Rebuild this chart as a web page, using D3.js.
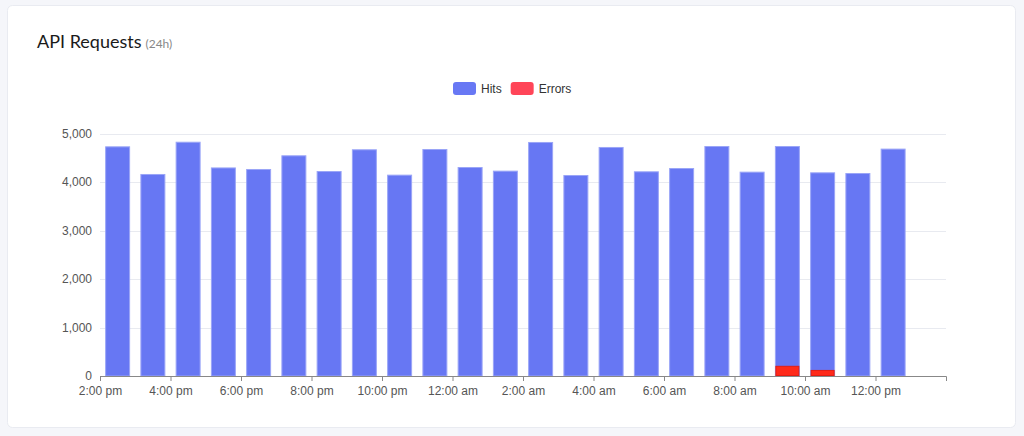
<!DOCTYPE html>
<html>
<head>
<meta charset="utf-8">
<script src="https://cdn.jsdelivr.net/npm/d3@7"></script>
<style>
  html, body { margin: 0; padding: 0; background: #f5f6fa; }
  svg { display: block; }
  .tick text { font-family: "Liberation Sans", Arial, sans-serif; font-size: 12px; fill: #555; }
</style>
</head>
<body>
<svg id="chart"></svg>
<script>
var width = 1024; // canvas size
var height = 436;

// Hour buckets (start of each hour) and their counts
var hours = [
  "2024-03-04T14:00", "2024-03-04T15:00", "2024-03-04T16:00", "2024-03-04T17:00",
  "2024-03-04T18:00", "2024-03-04T19:00", "2024-03-04T20:00", "2024-03-04T21:00",
  "2024-03-04T22:00", "2024-03-04T23:00", "2024-03-05T00:00", "2024-03-05T01:00",
  "2024-03-05T02:00", "2024-03-05T03:00", "2024-03-05T04:00", "2024-03-05T05:00",
  "2024-03-05T06:00", "2024-03-05T07:00", "2024-03-05T08:00", "2024-03-05T09:00",
  "2024-03-05T10:00", "2024-03-05T11:00", "2024-03-05T12:00"
];
var hits = [
  4725, 4155, 4820, 4290, 4258, 4540, 4216, 4664, 4141, 4670, 4299, 4224,
  4815, 4134, 4712, 4210, 4278, 4732, 4203, 4732, 4189, 4175, 4678
];
var errors = [
  0, 0, 0, 0, 0, 0, 0, 0, 0, 0, 0, 0,
  0, 0, 0, 0, 0, 0, 0, 210, 125, 0, 0
];

var timeDomain = ["2024-03-04T14:00", "2024-03-05T14:00"];
var xTicks = [
  "2024-03-04T14:00", "2024-03-04T16:00", "2024-03-04T18:00", "2024-03-04T20:00",
  "2024-03-04T22:00", "2024-03-05T00:00", "2024-03-05T02:00", "2024-03-05T04:00",
  "2024-03-05T06:00", "2024-03-05T08:00", "2024-03-05T10:00", "2024-03-05T12:00"
];
var yTicks = [0, 1000, 2000, 3000, 4000, 5000];

var legendItems = ["Hits", "Errors"];
var legendColors = ["#6878f4", "#ff4558"];

var parse = d3.timeParse("%Y-%m-%dT%H:%M");

// Plot area
var plotLeft = 100, plotRight = 946, plotTop = 133.5, plotBottom = 376;

var svg = d3.select("#chart").attr("width", width).attr("height", height);

// Card
svg.append("rect")
  .attr("x", 7.5).attr("y", 5.5)
  .attr("width", 1008).attr("height", 422)
  .attr("rx", 5).attr("ry", 5)
  .style("fill", "#fff")
  .style("stroke", "#e9ebf1");

// Title
var title = svg.append("text")
  .attr("x", 37).attr("y", 48)
  .style("font-family", "Lato, sans-serif");
title.append("tspan").text("API Requests")
  .style("font-size", "18px").style("fill", "#1a1a1a");
title.append("tspan").text("(24h)")
  .attr("dx", 4)
  .style("font-size", "12px").style("fill", "#888");

var x = d3.scaleTime()
  .domain(timeDomain.map(parse))
  .range([plotLeft, plotRight]);

var y = d3.scaleLinear()
  .domain([0, 5000])
  .range([plotBottom, plotTop]);

// Gridlines
svg.append("g").selectAll("line").data(yTicks.slice(1)).enter().append("line")
  .attr("x1", plotLeft).attr("x2", plotRight)
  .attr("y1", function(d) { return Math.round(y(d)) + 0.5; })
  .attr("y2", function(d) { return Math.round(y(d)) + 0.5; })
  .style("stroke", "#e8eaf0");

// Y labels (no axis line)
var yAxis = svg.append("g")
  .attr("transform", "translate(" + plotLeft + ",0)")
  .call(d3.axisLeft(y).tickValues(yTicks).tickFormat(d3.format(",")).tickSize(0).tickPadding(8));
yAxis.select(".domain").remove();

var hourWidth = x(parse(hours[1])) - x(parse(hours[0]));
var barW = hourWidth * 0.68;

function barX(d) {
  var t = parse(d);
  return x(d3.timeMinute.offset(t, 30)) - barW / 2;
}

// Hits
svg.append("g").selectAll("rect").data(hours).enter().append("rect")
  .attr("x", function(d) { return barX(d); })
  .attr("y", function(d, i) { return y(hits[i]); })
  .attr("width", barW)
  .attr("height", function(d, i) { return y(0) - y(hits[i]); })
  .style("fill", "#6777f3")
  .style("stroke", "#9aa5f7")
  .style("stroke-width", 1);

// Errors, drawn from the baseline over the hits
svg.append("g").selectAll("rect").data(hours).enter().append("rect")
  .filter(function(d, i) { return errors[i] > 0; })
  .attr("x", function(d) { return barX(d) + 0.5; })
  .attr("y", function(d) { var i = hours.indexOf(d); return y(errors[i]) + 0.5; })
  .attr("width", barW - 1)
  .attr("height", function(d) { var i = hours.indexOf(d); return y(0) - y(errors[i]) - 1; })
  .style("fill", "#ff2a1a")
  .style("stroke", "#e41e14")
  .style("stroke-width", 1);

// X axis
function ampm(d) {
  return d3.timeFormat("%-I:%M")(d) + " " + (d.getHours() < 12 ? "am" : "pm");
}
var xAxis = svg.append("g")
  .attr("transform", "translate(0," + plotBottom + ")")
  .call(d3.axisBottom(x).tickValues(xTicks.map(parse)).tickFormat(ampm).tickSize(5).tickSizeOuter(5).tickPadding(5));
xAxis.select(".domain").style("stroke", "#888");
xAxis.selectAll(".tick line").style("stroke", "#888");

// Legend
var legend = svg.append("g").attr("transform", "translate(453,82)");
var lx = 0;
legendItems.forEach(function(name, i) {
  var g = legend.append("g").attr("transform", "translate(" + lx + ",0)");
  g.append("rect")
    .attr("width", 23).attr("height", 13)
    .attr("rx", 3).attr("ry", 3)
    .style("fill", legendColors[i]);
  var t = g.append("text")
    .attr("x", 28).attr("y", 11)
    .style("font-family", "Liberation Sans, Arial, sans-serif")
    .style("font-size", "12px")
    .style("fill", "#333")
    .text(name);
  lx += 28 + t.node().getComputedTextLength() + 9;
});
</script>
</body>
</html>
